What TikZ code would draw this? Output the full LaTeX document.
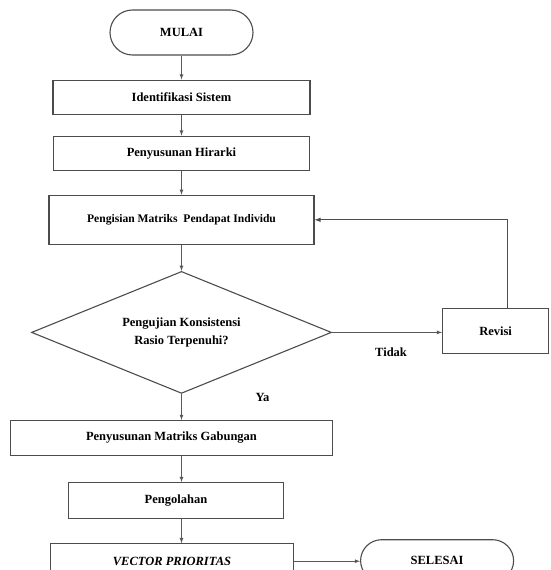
\documentclass[tikz,border=0pt]{standalone}
\usepackage{fontspec}
\setmainfont{Liberation Serif}
\usetikzlibrary{positioning,shapes.geometric,shapes.misc}

\tikzset{
  proses/.style={draw=black!70,line width=1.1pt,rectangle,inner sep=2pt,
    font=\fontsize{12.5}{14}\selectfont\bfseries},
  terminal/.style={draw=black!70,line width=1.1pt,rounded rectangle,inner sep=2pt,
    font=\fontsize{12.5}{14}\selectfont\bfseries},
  keputusan/.style={draw=black!70,line width=1.1pt,diamond,aspect=2.46,inner sep=1pt,
    minimum width=300pt,minimum height=122pt,align=center,
    font=\fontsize{12.5}{18}\selectfont\bfseries},
  label/.style={font=\fontsize{12.5}{14}\selectfont\bfseries},
  alur/.style={draw=black!65,line width=0.8pt,-latex}
}

\begin{document}
\begin{tikzpicture}
	\useasboundingbox (0,0) rectangle (551pt,-570pt);
		\node[terminal,minimum width=147pt,minimum height=45pt] (mulai) at (181.5pt,-32.5pt) {MULAI};
		\node[proses,minimum width=257pt,minimum height=34pt,below=24pt of mulai] (ident) {Identifikasi Sistem};
		\node[proses,minimum width=256pt,minimum height=34pt,below=21pt of ident] (hirarki) {Penyusunan Hirarki};
		\node[proses,minimum width=265pt,minimum height=49pt,below=24pt of hirarki,
			font=\fontsize{11.6}{13}\selectfont\bfseries] (isi) {Pengisian Matriks\ \ Pendapat Individu};
		\node[keputusan,below=26pt of isi] (uji) {Pengujian Konsistensi\\Rasio Terpenuhi?};
		\node[proses,minimum width=106pt,minimum height=45pt,right=110pt of uji,yshift=1pt] (revisi) {Revisi};
		\node[proses,minimum width=322pt,minimum height=35pt,below=26pt of uji,xshift=-10pt] (gabung) {Penyusunan Matriks Gabungan};
		\node[proses,minimum width=215pt,minimum height=36pt,below=26pt of gabung,xshift=4.5pt] (olah) {Pengolahan};
		\node[proses,minimum width=243pt,minimum height=35pt,below=24pt of olah,xshift=-4pt] (vektor) {\textit{VECTOR PRIORITAS}};
		\node[terminal,minimum width=157pt,minimum height=42pt,right=66pt of vektor,yshift=0.5pt] (selesai) {SELESAI};
		\node[label] (ya) at ([xshift=81pt,yshift=-4pt]uji.south) {Ya};
		% alur utama
		\draw[alur] (mulai.south) -- (ident.north);
		\draw[alur] (ident.south) -- (hirarki.north);
		\draw[alur] (hirarki.south) -- (isi.north);
		\draw[alur] (isi.south) -- (uji.north);
		\draw[alur] (uji.south) -- (uji.south |- gabung.north);
		\draw[alur] (uji.south |- gabung.south) -- (uji.south |- olah.north);
		\draw[alur] (uji.south |- olah.south) -- (uji.south |- vektor.north);
		\draw[alur] (vektor.east) -- (vektor.east -| selesai.west);
		% cabang tidak
		\draw[alur] (uji.east) -- (uji.east -| revisi.west) node[label,midway,yshift=-20pt,xshift=4pt] (tidak) {Tidak};
		\draw[alur,line width=1.1pt,draw=black!70] ([xshift=12pt]revisi.north) |- (isi.east);
	\end{tikzpicture}
\end{document}
